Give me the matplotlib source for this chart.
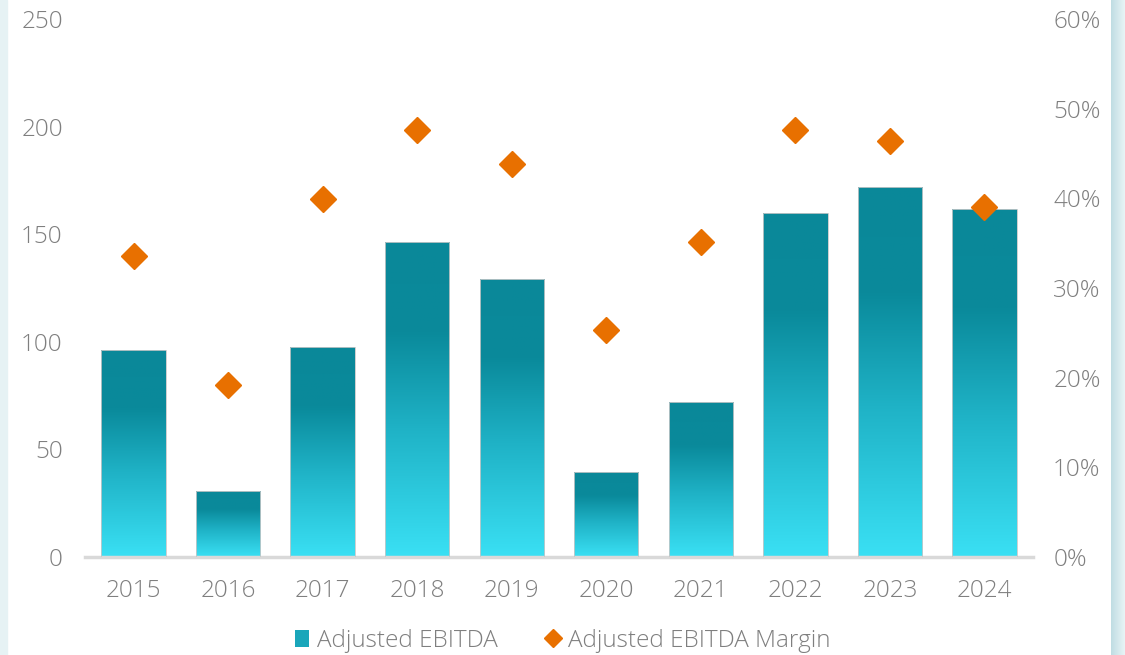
import numpy as np
import matplotlib.pyplot as plt
from matplotlib.colors import LinearSegmentedColormap
from matplotlib.patches import Rectangle, Patch
from matplotlib.lines import Line2D
from matplotlib.ticker import FuncFormatter

years = ["2015", "2016", "2017", "2018", "2019", "2020", "2021", "2022", "2023", "2024"]
ebitda = [96.4, 30.7, 97.8, 146.2, 129.4, 39.6, 72.2, 159.7, 171.8, 161.5]
margin = [33.6, 19.2, 39.9, 47.6, 43.8, 25.3, 35.1, 47.6, 46.4, 39.0]

plt.rcParams['font.family'] = ['Open Sans', 'DejaVu Sans']
plt.rcParams['font.weight'] = 'light'
text_color = '#7f7f7f'

fig = plt.figure(figsize=(11.25, 6.55), dpi=100)
fig.patch.set_facecolor('white')

# light blue frame strips on the sides
fig.patches.append(Rectangle((0, 0), 7 / 1125, 1, transform=fig.transFigure,
                             color='#e6f2f4', zorder=0))
strip = fig.add_axes([1111 / 1125, 0, 14 / 1125, 1])
strip.imshow(np.linspace(0, 1, 50).reshape(1, -1), aspect='auto',
             cmap=LinearSegmentedColormap.from_list('s', ['#bfdde3', '#e9f4f6']),
             extent=[0, 1, 0, 1])
strip.axis('off')

ax = fig.add_axes([85 / 1125, (655 - 557) / 655, (1033 - 85) / 1125, (557 - 19) / 655])
cmap = LinearSegmentedColormap.from_list(
    'bar', [(0, '#3ae0f4'), (0.4, '#1fb2c6'), (0.7, '#0a8a9b'), (1.0, '#0a8899')])
grad = np.linspace(0, 1, 256).reshape(-1, 1)

x = np.arange(len(years))
width = 0.68
bars = ax.bar(x, ebitda, width=width, facecolor='none', edgecolor='#c8c8c8',
              linewidth=0.6, zorder=3)
for xi, h, b in zip(x, ebitda, bars):
    # gradient spans the bar; small overshoot on top, clipped to the bar
    img = ax.imshow(grad, aspect='auto', cmap=cmap, origin='lower',
                    extent=[xi - width / 2, xi + width / 2, 0, h * 1.02], zorder=2)
    img.set_clip_path(b)

ax.set_xlim(-0.513, 9.513)
ax.set_ylim(0, 250)
ax.set_yticks([0, 50, 100, 150, 200, 250])
ax.set_xticks(x)
ax.set_xticklabels(years)
for s in ['top', 'left', 'right']:
    ax.spines[s].set_visible(False)
ax.spines['bottom'].set_color('#d9d9d9')
ax.spines['bottom'].set_linewidth(2.5)
ax.tick_params(axis='both', length=0, labelsize=17.5, colors=text_color)
ax.tick_params(axis='y', pad=16)
ax.tick_params(axis='x', pad=16)

ax2 = ax.twinx()
ax2.plot(x, margin, linestyle='none', marker='D', markersize=13.5,
         color='#e87000', zorder=4)
ax2.set_ylim(0, 60)
ax2.set_yticks([0, 10, 20, 30, 40, 50, 60])
ax2.yaxis.set_major_formatter(FuncFormatter(lambda v, p: f"{v:.0f}%"))
for s in ax2.spines.values():
    s.set_visible(False)
ax2.tick_params(axis='y', length=0, labelsize=17.5, colors=text_color, pad=14.5)

handles = [Patch(facecolor='#1aa6ba', edgecolor='none', label='Adjusted EBITDA'),
           Line2D([], [], linestyle='none', marker='D', markersize=9,
                  color='#e87000', label='Adjusted EBITDA Margin')]
leg = fig.legend(handles=handles, loc='center', bbox_to_anchor=(0.5, 0.022),
                 ncol=2, frameon=False, fontsize=17.5, handlelength=0.6,
                 handletextpad=0.3, columnspacing=2.0)
for t in leg.get_texts():
    t.set_color(text_color)

fig.savefig('out.png', dpi=100)
